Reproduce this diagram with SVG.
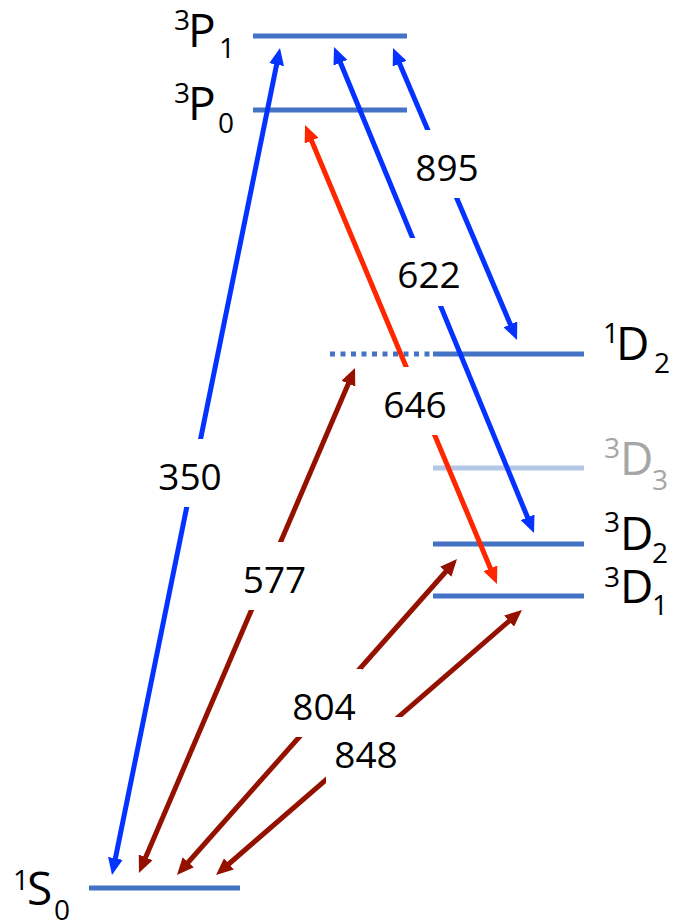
<svg xmlns="http://www.w3.org/2000/svg" width="690" height="924" viewBox="0 0 690 924">
<style>
.lvl{stroke:#4472C4;stroke-width:5;fill:none}
.lvl-faint{stroke:#B4C7E7;stroke-width:5;fill:none}
.ar{stroke-width:5;fill:none}
.blue{stroke:#0433FF;marker-start:url(#hb);marker-end:url(#hb)}
.red{stroke:#FF2600;marker-start:url(#hr);marker-end:url(#hr)}
.dred{stroke:#941100;marker-start:url(#hd);marker-end:url(#hd)}
.big{font-family:"Open Sans","Liberation Sans",sans-serif;font-size:46px;fill:#000}
.sm{font-family:"Open Sans","Liberation Sans",sans-serif;font-size:28px;fill:#000}
.gray{fill:#A6A6A6}
.num{font-family:"Open Sans","Liberation Sans",sans-serif;font-size:37px;fill:#000;text-anchor:middle}
.bg{fill:#fff}
</style>
<defs>
<marker id="hb" viewBox="0 0 17 15" refX="7" refY="7.5" markerWidth="17" markerHeight="15" markerUnits="userSpaceOnUse" orient="auto-start-reverse"><path d="M0,0 L17,7.5 L0,15 Z" fill="#0433FF"/></marker>
<marker id="hr" viewBox="0 0 17 15" refX="7" refY="7.5" markerWidth="17" markerHeight="15" markerUnits="userSpaceOnUse" orient="auto-start-reverse"><path d="M0,0 L17,7.5 L0,15 Z" fill="#FF2600"/></marker>
<marker id="hd" viewBox="0 0 17 15" refX="7" refY="7.5" markerWidth="17" markerHeight="15" markerUnits="userSpaceOnUse" orient="auto-start-reverse"><path d="M0,0 L17,7.5 L0,15 Z" fill="#941100"/></marker>
</defs>

<g id="level-3P1"><line class="lvl" x1="253" y1="36" x2="407" y2="36"/>
<text class="sm" x="174" y="30">3</text><text class="big" x="188" y="47">P</text><text class="sm" x="219" y="58">1</text></g>
<g id="level-3P0"><line class="lvl" x1="253" y1="110" x2="407" y2="110"/>
<text class="sm" x="174" y="103">3</text><text class="big" x="188" y="120">P</text><text class="sm" x="218" y="133">0</text></g>
<g id="level-1D2"><line class="lvl" x1="330" y1="354" x2="433" y2="354" stroke-dasharray="5 5.5"/><line class="lvl" x1="433" y1="354" x2="584" y2="354"/>
<text class="sm" x="603" y="343">1</text><text class="big" x="616" y="360">D</text><text class="sm" x="654" y="373">2</text></g>
<g id="level-3D3"><line class="lvl-faint" x1="433" y1="468" x2="584" y2="468"/>
<text class="sm gray" x="604" y="458">3</text><text class="big gray" x="620" y="475">D</text><text class="sm gray" x="652" y="490">3</text></g>
<g id="level-3D2"><line class="lvl" x1="433" y1="544" x2="584" y2="544"/>
<text class="sm" x="604" y="532">3</text><text class="big" x="620" y="550">D</text><text class="sm" x="652" y="563">2</text></g>
<g id="level-3D1"><line class="lvl" x1="433" y1="596" x2="584" y2="596"/>
<text class="sm" x="604" y="587">3</text><text class="big" x="620" y="603">D</text><text class="sm" x="652" y="615">1</text></g>
<g id="level-1S0"><line class="lvl" x1="89" y1="888" x2="240" y2="888"/>
<text class="sm" x="13" y="890">1</text><text class="big" x="27" y="905">S</text><text class="sm" x="54" y="920">0</text></g>

<g id="connectors">
<line class="ar blue" x1="114" y1="865.2" x2="278" y2="57.8"/>
<line class="ar blue" x1="337.8" y1="56.2" x2="530.2" y2="523.8"/>
<line class="ar blue" x1="396.9" y1="57.2" x2="513.1" y2="330.8"/>
<line class="ar red" x1="308.9" y1="134.2" x2="493.1" y2="574.8"/>
<line class="ar dred" x1="351.1" y1="377.2" x2="142.9" y2="863.8"/>
<line class="ar dred" x1="450.4" y1="566.5" x2="183.6" y2="867.5"/>
<line class="ar dred" x1="514.4" y1="616.5" x2="223.6" y2="868.5"/>
</g>

<g id="labels">
<rect class="bg" x="412" y="130" width="70" height="68"/>
<rect class="bg" x="394" y="238" width="70" height="68"/>
<rect class="bg" x="380" y="367" width="70" height="68"/>
<rect class="bg" x="155" y="439" width="70" height="68"/>
<rect class="bg" x="240" y="542" width="70" height="68"/>
<rect class="bg" x="287" y="669" width="75" height="68"/>
<rect class="bg" x="326" y="717" width="80" height="68"/>
<text class="num" x="447" y="181">895</text>
<text class="num" x="429" y="288">622</text>
<text class="num" x="415" y="418">646</text>
<text class="num" x="190" y="490">350</text>
<text class="num" x="274.5" y="593">577</text>
<text class="num" x="324" y="720">804</text>
<text class="num" x="366" y="768">848</text>
</g>
</svg>
